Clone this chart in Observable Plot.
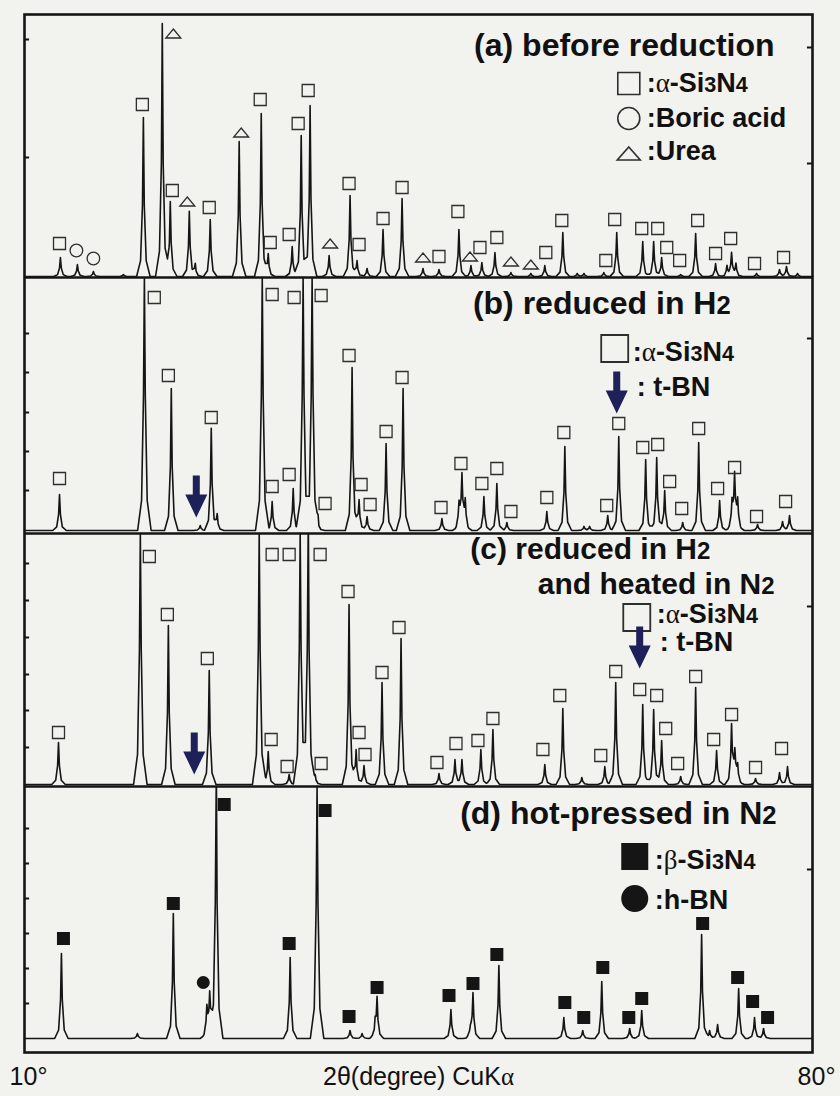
<!DOCTYPE html>
<html><head><meta charset="utf-8">
<script src="https://cdn.jsdelivr.net/npm/d3@7"></script>
<script src="https://cdn.jsdelivr.net/npm/@observablehq/plot@0.6"></script>
<style>
html,body{margin:0;padding:0;background:#f2f2ee;}
#chart{width:840px;height:1096px;}
</style></head><body><div id="chart"></div>
<script>
// ---------- DATA (2θ in degrees, intensity in arbitrary units) ----------
const peaksA = [[13.19,19],[14.70,12],[16.12,5],[18.78,2],[20.56,159],[22.24,253],[22.95,75],[24.64,65],[25.17,12],[26.50,57],[29.07,135],[31.03,163],[31.65,23],[33.78,30],[34.58,141],[35.37,171],[37.06,21],[38.92,81],[39.54,16],[40.43,8],[41.85,47],[43.54,78],[45.40,8],[46.82,7],[48.59,47],[49.66,11],[50.63,14],[51.79,24],[53.21,4],[54.98,3],[56.22,11],[57.82,44],[59.1,3],[59.7,3],[61.46,4],[62.61,44],[64.92,35],[65.89,35],[66.60,19],[68.29,2],[69.62,43],[71.39,13],[72.4,10],[72.81,23],[73.2,12],[75.03,3],[77.07,7],[77.69,10],[78.67,3]];
const peaksB = [[13.11,36],[20.65,300],[23.04,142],[25.61,5],[26.59,102],[27.12,15],[31.12,300],[32.00,29],[33.87,42],[34.75,300],[35.55,300],[36.08,10],[39.10,163],[39.72,31],[40.43,14],[42.12,87],[43.63,142],[47.08,12],[48.6,25],[48.86,53],[49.15,28],[50.81,34],[51.96,47],[52.85,8],[56.40,19],[58.00,84],[59.7,4],[60.2,4],[61.81,15],[62.79,94],[65.18,71],[66.16,73],[66.87,40],[68.47,8],[69.89,88],[71.75,30],[72.85,25],[73.08,53],[73.35,28],[75.12,6],[77.34,9],[77.96,15]];
const peaksC = [[13.02,42],[20.29,300],[22.78,159],[26.41,114],[30.85,300],[31.65,33],[33.51,10],[34.49,300],[35.20,300],[35.82,10],[38.83,180],[39.46,35],[40.16,19],[41.76,102],[43.45,146],[46.82,11],[48.24,25],[48.86,25],[50.54,35],[51.61,55],[56.22,20],[57.82,76],[59.51,7],[61.55,18],[62.52,102],[64.92,80],[65.89,75],[66.60,44],[68.29,8],[69.62,97],[71.48,34],[72.81,58],[73.1,30],[73.35,18],[74.94,6],[77.07,12],[77.78,18]];
const peaksD = [[13.28,85],[20.03,5],[23.22,125],[26.2,30],[26.45,43],[27.03,300],[33.60,81],[35.99,300],[38.92,8],[39.99,5],[41.15,12],[41.32,39],[47.88,29],[49.60,8],[49.84,45],[52.14,73],[57.91,21],[59.59,8],[61.28,57],[63.76,10],[64.83,28],[70.15,104],[70.86,8],[71.57,14],[73.44,50],[74.85,21],[75.65,10]];

// phase markers: [2θ, height above baseline, phase]
const markA = [[13.11,33,"sq"],[14.61,26,"ci"],[16.12,18,"ci"],[20.47,172,"sq"],[23.22,243,"tr"],[23.13,86,"sq"],[24.46,75,"tr"],[26.41,69,"sq"],[29.25,144,"tr"],[30.94,177,"sq"],[31.83,34,"sq"],[33.51,42,"sq"],[34.31,153,"sq"],[35.20,186,"sq"],[37.15,33,"tr"],[38.83,93,"sq"],[39.72,32,"sq"],[41.85,58,"sq"],[43.54,89,"sq"],[45.40,19,"tr"],[46.82,20,"sq"],[48.50,65,"sq"],[49.57,20,"tr"],[50.46,29,"sq"],[51.96,39,"sq"],[53.21,15,"tr"],[54.98,12,"tr"],[56.31,24,"sq"],[57.73,56,"sq"],[61.64,16,"sq"],[62.43,57,"sq"],[64.83,48,"sq"],[66.25,48,"sq"],[67.05,29,"sq"],[68.20,16,"sq"],[69.80,56,"sq"],[71.39,23,"sq"],[72.73,38,"sq"],[74.85,13,"sq"],[77.43,19,"sq"]];
const markB = [[13.11,52,"sq"],[21.53,233,"sq"],[22.78,155,"sq"],[26.59,113,"sq"],[32.00,236,"sq"],[32.00,44,"sq"],[33.51,56,"sq"],[33.95,233,"sq"],[36.35,235,"sq"],[36.70,27,"sq"],[38.83,175,"sq"],[39.90,46,"sq"],[40.70,26,"sq"],[42.12,99,"sq"],[43.54,153,"sq"],[47.00,23,"sq"],[48.77,67,"sq"],[50.63,47,"sq"],[51.96,62,"sq"],[53.21,19,"sq"],[56.40,33,"sq"],[57.91,98,"sq"],[61.72,25,"sq"],[62.79,107,"sq"],[64.92,83,"sq"],[66.25,86,"sq"],[67.31,49,"sq"],[68.38,22,"sq"],[69.89,102,"sq"],[71.57,42,"sq"],[73.08,63,"sq"],[75.03,14,"sq"],[77.61,29,"sq"]];
const markC = [[13.02,52,"sq"],[21.09,228,"sq"],[22.69,170,"sq"],[26.24,126,"sq"],[32.00,230,"sq"],[31.91,45,"sq"],[33.33,18,"sq"],[33.51,230,"sq"],[36.26,230,"sq"],[36.35,21,"sq"],[38.74,193,"sq"],[39.72,52,"sq"],[40.25,30,"sq"],[41.76,112,"sq"],[43.27,157,"sq"],[46.64,22,"sq"],[48.33,41,"sq"],[50.28,44,"sq"],[51.61,66,"sq"],[56.05,35,"sq"],[57.55,89,"sq"],[61.19,29,"sq"],[62.52,113,"sq"],[64.65,95,"sq"],[66.16,89,"sq"],[66.96,56,"sq"],[68.02,21,"sq"],[69.62,108,"sq"],[71.22,45,"sq"],[72.81,70,"sq"],[74.94,17,"sq"],[77.25,36,"sq"]];
const markD = [[13.46,100,"fsq"],[23.22,135,"fsq"],[25.88,56,"fci"],[27.74,234,"fsq"],[33.51,95,"fsq"],[36.70,228,"fsq"],[38.83,22,"fsq"],[41.32,51,"fsq"],[47.71,43,"fsq"],[49.84,55,"fsq"],[51.96,84,"fsq"],[58.00,36,"fsq"],[59.68,21,"fsq"],[61.37,71,"fsq"],[63.68,21,"fsq"],[64.83,40,"fsq"],[70.24,115,"fsq"],[73.35,61,"fsq"],[74.68,37,"fsq"],[76.01,21,"fsq"]];
// t-BN arrows: [2θ, tip height above baseline]
const arrowB = [[25.26,13]];
const arrowC = [[25.08,10]];
// inner axis ticks (intensity units)
const ticksLeft = {a:[119,237], b:[40,79,118,158,197], c:[37,74,110,147,184,221], d:[35,70,105,140,175,210]};
const ticksRight = {a:[113,229], b:[192], c:[178], d:[169]};
const xTicks = [10, 80];
const titles = {a:"(a) before reduction", b:"(b) reduced in H{2}", c1:"(c) reduced in H{2}", c2:"and heated in N{2}", d:"(d) hot-pressed in N{2}"};
const legendA = [":[α]-Si{3}N{4}", ":Boric acid", ":Urea"];
const legendBC = [":[α]-Si{3}N{4}", ": t-BN"];
const legendD = [":[β]-Si{3}N{4}", ":h-BN"];
const xLabel = "2θ(degree) CuK[α]";

// ---------- LAYOUT ----------
const X0 = 10, X1 = 80;
const panels = [
  {id:"a", peaks:peaksA, marks:markA, arrows:[], base:776, top:1038},
  {id:"b", peaks:peaksB, marks:markB, arrows:arrowB, base:522, top:775},
  {id:"c", peaks:peaksC, marks:markC, arrows:arrowC, base:268, top:519},
  {id:"d", peaks:peaksD, marks:markD, arrows:[], base:14, top:266}
];
const PROFILE = [[-0.6,0],[-0.25,0.1],[-0.08,0.45],[0,1],[0.08,0.45],[0.25,0.1],[0.6,0]];
function profileAt(d){
  if (d <= PROFILE[0][0] || d >= PROFILE[PROFILE.length-1][0]) return 0;
  for (let i = 1; i < PROFILE.length; i++) {
    const [x0,y0] = PROFILE[i-1], [x1,y1] = PROFILE[i];
    if (d <= x1) return y0 + (y1-y0)*(d-x0)/(x1-x0);
  }
  return 0;
}
function trace(P){
  const xs = new Set([X0, X1]);
  P.peaks.forEach(([p]) => PROFILE.forEach(([dx]) => { const x = +(p+dx).toFixed(3); if (x > X0 && x < X1) xs.add(x); }));
  const cap = P.top - P.base;
  return [...xs].sort((a,b)=>a-b).map(x => ({panel:P.id, x, y: P.base + Math.min(cap, d3.sum(P.peaks, ([p,h]) => h*profileAt(x-p)))}));
}
const lines = panels.flatMap(trace);
const markers = panels.flatMap(P => P.marks.map(([x,h,s]) => ({x, y:P.base+h, s})));
const arrows = panels.flatMap(P => P.arrows.map(([x,h]) => ({x, y:P.base+h})));
const tickL = panels.flatMap(P => ticksLeft[P.id].map(v => ({y:P.base+v})));
const tickR = panels.flatMap(P => ticksRight[P.id].map(v => ({y:P.base+v})));
const separators = panels.slice(1).map(P => ({y:P.top}));

// ---------- SYMBOLS ----------
const square = s => ({draw(ctx){const h=s/2; ctx.moveTo(-h,-h); ctx.lineTo(h,-h); ctx.lineTo(h,h); ctx.lineTo(-h,h); ctx.closePath();}});
const triangle = (w,h) => ({draw(ctx){ctx.moveTo(0,-h/2); ctx.lineTo(w/2,h/2); ctx.lineTo(-w/2,h/2); ctx.closePath();}});
const arrowSym = {draw(ctx){ // tip at origin, pointing down
  ctx.moveTo(-3.5,-42); ctx.lineTo(3.5,-42); ctx.lineTo(3.5,-23); ctx.lineTo(11,-23);
  ctx.lineTo(0,0); ctx.lineTo(-11,-23); ctx.lineTo(-3.5,-23); ctx.closePath();}};
const NAVY = "#1d2059", INK = "#151515", MK = "#2e2e2e";
const FONT = "'Liberation Sans', Arial, Helvetica, sans-serif";

const one = [0];
const T = (str, x, y, o={}) => Plot.text(one, {x:()=>x, y:()=>y, text:()=>str, fontFamily:FONT, fontWeight:"bold", fill:"#111", lineAnchor:"bottom", textAnchor:"start", ...o});
const D = (x, y, o) => Plot.dot(one, {x:()=>x, y:()=>y, ...o});

const plot = Plot.plot({
  width: 840, height: 1096,
  marginTop: 14, marginBottom: 44, marginLeft: 24, marginRight: 28,
  x: {domain:[X0, X1]},
  y: {domain:[0, 1038], axis:null},
  style: {background:"transparent", fontFamily: FONT},
  marks: [
    Plot.line(lines, {x:"x", y:"y", z:"panel", stroke:INK, strokeWidth:1.6, strokeLinejoin:"round"}),
    Plot.dot(markers.filter(d=>d.s==="sq"), {x:"x", y:"y", symbol:square(12), fill:"none", stroke:MK, strokeWidth:1.3}),
    Plot.dot(markers.filter(d=>d.s==="ci"), {x:"x", y:"y", r:6.3, fill:"none", stroke:MK, strokeWidth:1.3}),
    Plot.dot(markers.filter(d=>d.s==="tr"), {x:"x", y:"y", symbol:triangle(15,9), fill:"none", stroke:MK, strokeWidth:1.3}),
    Plot.dot(markers.filter(d=>d.s==="fsq"), {x:"x", y:"y", symbol:square(13), fill:INK, stroke:"none"}),
    Plot.dot(markers.filter(d=>d.s==="fci"), {x:"x", y:"y", r:6.5, fill:INK, stroke:"none"}),
    Plot.dot(arrows, {x:"x", y:"y", symbol:arrowSym, fill:NAVY, stroke:"none"}),
    // inner ticks
    Plot.ruleY(tickL, {y:"y", x1:X0, x2:X0+0.45, stroke:INK, strokeWidth:2}),
    Plot.ruleY(tickR, {y:"y", x1:X1-0.45, x2:X1, stroke:INK, strokeWidth:2}),
    // panel separators & frame
    Plot.ruleY(separators, {y:"y", stroke:INK, strokeWidth:2.6}),
    Plot.frame({stroke:INK, strokeWidth:2.6}),
    // (a)
    T(titles.a, 76.63, 997, {fontSize:32, textAnchor:"end"}),
    D(63.68, 969, {symbol:square(22), fill:"none", stroke:MK, strokeWidth:1.6}),
    T(legendA[0], 65.27, 961, {fontSize:27}),
    D(63.68, 934, {r:11, fill:"none", stroke:MK, strokeWidth:1.6}),
    T(legendA[1], 65.27, 926, {fontSize:27}),
    D(63.68, 899, {symbol:triangle(23,13), fill:"none", stroke:MK, strokeWidth:1.6}),
    T(legendA[2], 65.27, 893, {fontSize:27}),
    // (b)
    T(titles.b, 61.28, 739, {fontSize:32, textAnchor:"middle"}),
    D(62.43, 704, {symbol:square(27), fill:"none", stroke:MK, strokeWidth:1.8}),
    T(legendBC[0], 64.03, 692, {fontSize:27}),
    D(62.61, 639, {symbol:arrowSym, fill:NAVY}),
    T(legendBC[1], 64.39, 657, {fontSize:27}),
    // (c)
    T(titles.c1, 49.6, 494, {fontSize:30}),
    T(titles.c2, 76.63, 459, {fontSize:30, textAnchor:"end"}),
    D(64.39, 435, {symbol:square(27), fill:"none", stroke:MK, strokeWidth:1.8}),
    T(legendBC[0], 66.16, 430, {fontSize:27}),
    D(64.65, 384, {symbol:arrowSym, fill:NAVY}),
    T(legendBC[1], 66.43, 402, {fontSize:27}),
    // (d)
    T(titles.d, 76.81, 229, {fontSize:32, textAnchor:"end"}),
    D(64.21, 196, {symbol:square(27), fill:INK}),
    T(legendD[0], 65.98, 184, {fontSize:27}),
    D(64.21, 154, {r:13.5, fill:INK}),
    T(legendD[1], 65.98, 144, {fontSize:27}),
    // x axis
    Plot.axisX({ticks:xTicks, tickSize:0, tickPadding:15, tickFormat:d=>d+"°", fontSize:25, dx:4, label:null, fill:"#111"}),
    Plot.text(one, {frameAnchor:"bottom", text:()=>xLabel, dy:24, fontSize:25, fontFamily:FONT, fill:"#111", lineAnchor:"middle"})
  ]
});

// rich text: {..} = smaller digits, [..] = Greek in serif regular
function richify(svg){
  const leaves = [...svg.querySelectorAll("text, tspan")].filter(el => !el.children.length);
  leaves.forEach(el => {
    const s = el.textContent;
    if (!/[\{\[]/.test(s)) return;
    el.textContent = "";
    const re = /\{([^}]*)\}|\[([^\]]*)\]|([^\{\[]+)/g; let m;
    while ((m = re.exec(s))) {
      const ts = document.createElementNS("http://www.w3.org/2000/svg", "tspan");
      if (m[1] !== undefined) { ts.textContent = m[1]; ts.setAttribute("font-size", "0.8em"); }
      else if (m[2] !== undefined) { ts.textContent = m[2]; ts.setAttribute("font-family", "'Liberation Serif', 'DejaVu Serif', serif"); ts.setAttribute("font-weight", "normal"); }
      else ts.textContent = m[3];
      el.appendChild(ts);
    }
  });
}
richify(plot);
document.getElementById("chart").appendChild(plot);
</script>
</body></html>
